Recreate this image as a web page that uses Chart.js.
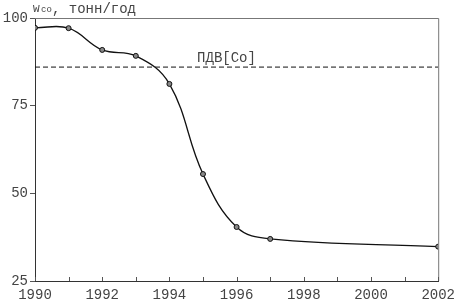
<!DOCTYPE html>
<html>
<head>
<meta charset="utf-8">
<script src="https://cdn.jsdelivr.net/npm/chart.js@4/dist/chart.umd.min.js"></script>
<style>
  html, body { margin: 0; padding: 0; background: #fff; }
  #wrap { width: 461px; height: 306px; }
</style>
</head>
<body>
<div id="wrap"><canvas id="chart" width="461" height="306"></canvas></div>
<script>
const years = [1990, 1991, 1992, 1993, 1994, 1995, 1996, 1997, 2002];
const emissions = [97.2, 97.1, 90.9, 89.2, 81.2, 55.5, 40.4, 37.0, 34.8];
const limitValue = 86;
const limitLabel = "ПДВ[Co]";
const yTicks = [25, 50, 75, 100];

const monoFont = "'Liberation Mono', 'DejaVu Sans Mono', monospace";
const textColor = "#444";

// frame, inner year ticks and text labels
const extras = {
  id: "extras",
  afterDraw(chart) {
    const { ctx, chartArea: a, scales } = chart;
    ctx.save();
    ctx.strokeStyle = "#777";
    ctx.lineWidth = 1;
    ctx.beginPath();
    ctx.moveTo(a.left, a.top + 0.5);
    ctx.lineTo(a.right + 0.5, a.top + 0.5);
    ctx.lineTo(a.right + 0.5, a.bottom);
    ctx.stroke();

    ctx.strokeStyle = "#555";
    for (let yr = years[0]; yr <= years[years.length - 1]; yr++) {
      const x = Math.round(scales.x.getPixelForValue(yr)) + 0.5;
      ctx.beginPath();
      ctx.moveTo(x, a.bottom);
      ctx.lineTo(x, a.bottom - 4);
      ctx.stroke();
    }

    ctx.fillStyle = textColor;
    ctx.textBaseline = "middle";
    ctx.font = "14px " + monoFont;
    ctx.textAlign = "center";
    ctx.fillText(limitLabel, scales.x.getPixelForValue(1995.7), scales.y.getPixelForValue(limitValue) - 9);

    ctx.textAlign = "left";
    ctx.font = "11px " + monoFont;
    ctx.fillText("W", 33, 9);
    ctx.font = "9px " + monoFont;
    ctx.fillText("co", 41, 10);
    ctx.font = "14px " + monoFont;
    ctx.fillText(", тонн/год", 52, 9);
    ctx.restore();
  },
};

new Chart(document.getElementById("chart"), {
  type: "line",
  data: {
    datasets: [
      {
        data: years.map((y, i) => ({ x: y, y: emissions[i] })),
        borderColor: "#111",
        borderWidth: 1.3,
        tension: 0.4,
        pointRadius: 2.5,
        pointBackgroundColor: "#888",
        pointBorderColor: "#111",
        pointBorderWidth: 1,
      },
      {
        data: [
          { x: years[0], y: limitValue },
          { x: years[years.length - 1], y: limitValue },
        ],
        borderColor: "#111",
        borderWidth: 1,
        borderDash: [5, 3],
        pointRadius: 0,
      },
    ],
  },
  options: {
    responsive: false,
    animation: false,
    layout: { padding: { top: 18, right: 18, left: 0, bottom: 0 } },
    plugins: { legend: { display: false }, tooltip: { enabled: false } },
    scales: {
      x: {
        type: "linear",
        min: 1990,
        max: 2002,
        afterFit: (s) => { s.height = 25; },
        border: { color: "#333", width: 1 },
        grid: { drawOnChartArea: false, drawTicks: false },
        ticks: {
          stepSize: 2,
          autoSkip: false,
          maxRotation: 0,
          padding: 6,
          color: textColor,
          font: { family: monoFont, size: 14 },
          callback: (v) => String(v),
        },
      },
      y: {
        min: 25,
        max: 100,
        afterFit: (s) => { s.width = 35; },
        afterBuildTicks: (s) => { s.ticks = yTicks.map((v) => ({ value: v })); },
        border: { color: "#333", width: 1 },
        grid: { drawOnChartArea: false, tickLength: 5, color: "#555" },
        ticks: {
          padding: 2,
          color: textColor,
          font: { family: monoFont, size: 14 },
        },
      },
    },
  },
  plugins: [extras],
});
</script>
</body>
</html>
